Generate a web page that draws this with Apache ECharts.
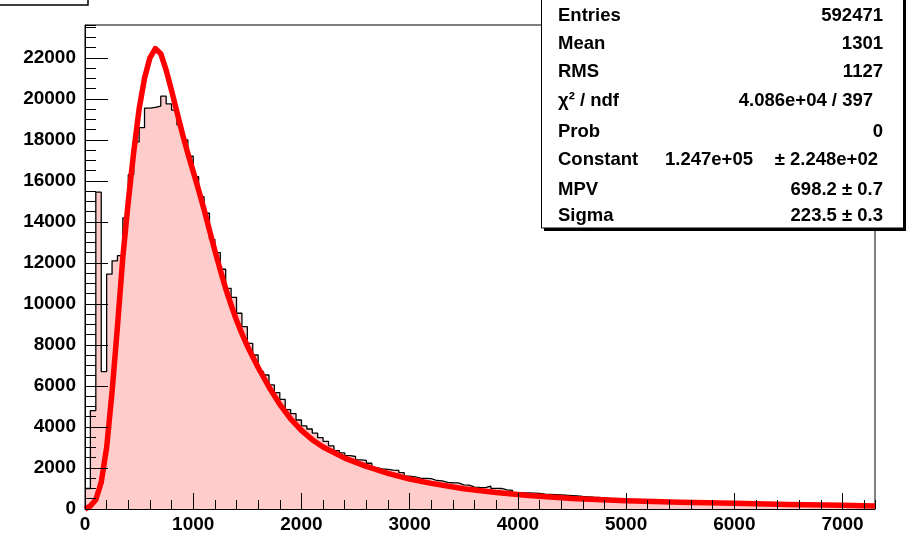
<!DOCTYPE html>
<html>
<head>
<meta charset="utf-8">
<script src="https://cdn.jsdelivr.net/npm/echarts@6/dist/echarts.min.js"></script>
<style>
  html, body { margin: 0; padding: 0; background: #fff; }
  #main { width: 906px; height: 537px; }
</style>
</head>
<body>
<div id="main"></div>
<script>
// histogram: 146 bins of width 50 from 0 to 7300
const binWidth = 50
const counts = [
  1000, 4800, 15450, 6700, 11450, 12100, 12350, 14200, 16300, 17900, 18600,
  19550, 19580, 19650, 20130, 19750, 19450, 18730, 18000, 17200, 16200, 15230,
  14420, 13150, 12500, 11690, 10760, 10320, 9545, 8890, 8080, 7510, 6700, 6535, 6050, 5675, 5350,
  4850, 4650, 4340, 4050, 3900, 3700, 3480, 3300, 3080, 2850, 2740, 2600, 2560, 2400, 2370, 2230,
  2000, 1950, 1930, 1900, 1880, 1770, 1600, 1570, 1500, 1490, 1480, 1390, 1370, 1300, 1280, 1270,
  1180, 1160, 1070, 1050, 1040, 1120, 1010, 1000, 930, 910, 800, 790, 780, 770, 760, 720, 710,
  700, 690, 670, 655, 640, 610, 595, 575, 560, 540, 520, 505, 490, 475, 460, 450, 435, 420, 410, 400,
  390, 380, 370, 360, 350, 340, 330, 322, 315, 305, 300, 292, 285, 278, 270, 265, 258, 252, 246, 240,
  235, 230, 225, 220, 215, 210, 205, 200, 196, 192, 188, 184, 180, 176, 172, 168, 165, 162, 158, 155
]

// landau fit curve
const fitX = [0, 50, 100, 150, 200, 250, 300, 350, 400, 450, 500, 550, 600, 650, 700, 750, 800, 850, 900, 950,
  1000, 1050, 1100, 1150, 1200, 1250, 1300, 1350, 1400, 1450, 1500, 1600, 1700, 1800, 1900, 2000, 2100, 2200,
  2400, 2600, 2800, 3000, 3200, 3500, 3800, 4100, 4500, 5000, 5500, 6000, 6500, 7000, 7300]
const fitY = [0, 150, 450, 1300, 3000, 5700, 8900, 12300, 15000, 17400, 19500, 21000, 22000, 22450, 22200, 21400,
  20400, 19350, 18300, 17350, 16450, 15550, 14600, 13600, 12600, 11650, 10750, 9950, 9200, 8550, 7950, 6900,
  5950, 5100, 4400, 3830, 3380, 3020, 2480, 2080, 1740, 1460, 1250, 990, 800, 655, 515, 405, 335, 278, 225, 180, 150]

const xRange = [0, 7300]
const yRange = [0, 23600]

const statsLabels = ['Entries', 'Mean', 'RMS', 'χ² / ndf', 'Prob', 'Constant', 'MPV', 'Sigma']
const statsValues = ['592471', '1301', '1127', '4.086e+04 / 397', '0', '± 2.248e+02', '698.2 ± 0.7', '223.5 ± 0.3']
const constantValue = '1.247e+05'

const font = 'Liberation Sans, Arial, Helvetica, sans-serif'

const histData = counts.map((c, i) => [i * binWidth, c])
histData.push([counts.length * binWidth, counts[counts.length - 1]])
const fitData = fitX.map((x, i) => [x, fitY[i]])

const chart = echarts.init(document.getElementById('main'))

// stats box
const rowY = [15.5, 43.7, 72, 101, 132, 160.3, 190, 216.3]
const statsEls = [
  { type: 'rect', shape: { x: 544, y: -3, width: 362, height: 234 }, style: { fill: '#000' }, z: 100 },
  { type: 'rect', shape: { x: 541.5, y: -6, width: 362, height: 234 }, style: { fill: '#fff', stroke: '#000', lineWidth: 1 }, z: 101 }
]
statsLabels.forEach((t, i) => {
  statsEls.push({
    type: 'text', z: 102, x: 558, y: rowY[i],
    style: { text: t, font: 'bold 18.5px ' + font, fill: '#000', textAlign: 'left', textVerticalAlign: 'middle' }
  })
  let right = 883
  if (i === 3) right = 873
  if (i === 5) right = 878
  statsEls.push({
    type: 'text', z: 102, x: right, y: rowY[i],
    style: { text: statsValues[i], font: 'bold 18.5px ' + font, fill: '#000', textAlign: 'right', textVerticalAlign: 'middle' }
  })
})
statsEls.push({
  type: 'text', z: 102, x: 753, y: rowY[5],
  style: { text: constantValue, font: 'bold 18.5px ' + font, fill: '#000', textAlign: 'right', textVerticalAlign: 'middle' }
})

// title box (cut off at the top)
statsEls.push({ type: 'rect', shape: { x: -3, y: -30, width: 91, height: 35 }, style: { fill: '#fff', stroke: '#000', lineWidth: 1.5 }, z: 100 })

const labelStyle = { color: '#000', fontWeight: 'bold', fontSize: 19, fontFamily: font, formatter: v => String(v) }

var option = {
  animation: false,
  backgroundColor: '#fff',
  grid: {
    left: 85, right: 31, top: 25, bottom: 28,
    show: true, borderColor: '#000', borderWidth: 1, backgroundColor: 'transparent'
  },
  xAxis: [
    {
      type: 'value', min: xRange[0], max: xRange[1], interval: 1000, z: 10,
      axisLine: { show: true, lineStyle: { color: '#000', width: 1 } },
      axisTick: { show: true, inside: true, length: 16, lineStyle: { color: '#000', width: 1 } },
      axisLabel: Object.assign({ margin: 6, showMaxLabel: false }, labelStyle),
      splitLine: { show: false }
    },
    {
      type: 'value', min: xRange[0], max: xRange[1], interval: 200, position: 'bottom', z: 10,
      axisLine: { show: false },
      axisTick: { show: true, inside: true, length: 9, lineStyle: { color: '#000', width: 1 } },
      axisLabel: { show: false },
      splitLine: { show: false }
    }
  ],
  yAxis: [
    {
      type: 'value', min: yRange[0], max: yRange[1], interval: 2000, z: 10,
      axisLine: { show: true, lineStyle: { color: '#000', width: 1 } },
      axisTick: { show: true, inside: true, length: 23, lineStyle: { color: '#000', width: 1 } },
      axisLabel: Object.assign({ margin: 9, showMaxLabel: false }, labelStyle),
      splitLine: { show: false }
    },
    {
      type: 'value', min: yRange[0], max: yRange[1], interval: 500, position: 'left', z: 10,
      axisLine: { show: false },
      axisTick: { show: true, inside: true, length: 11, lineStyle: { color: '#000', width: 1 } },
      axisLabel: { show: false },
      splitLine: { show: false }
    }
  ],
  series: [
    {
      type: 'line',
      step: 'end',
      data: histData,
      symbol: 'none',
      lineStyle: { color: '#000', width: 1.3 },
      areaStyle: { color: '#ffcccc', opacity: 1 },
      z: 2
    },
    {
      type: 'line',
      data: fitData,
      smooth: false,
      symbol: 'none',
      lineStyle: { color: '#ff0000', width: 5.5, join: 'round' },
      z: 3
    }
  ],
  graphic: statsEls
}
chart.setOption(option)
</script>
</body>
</html>
